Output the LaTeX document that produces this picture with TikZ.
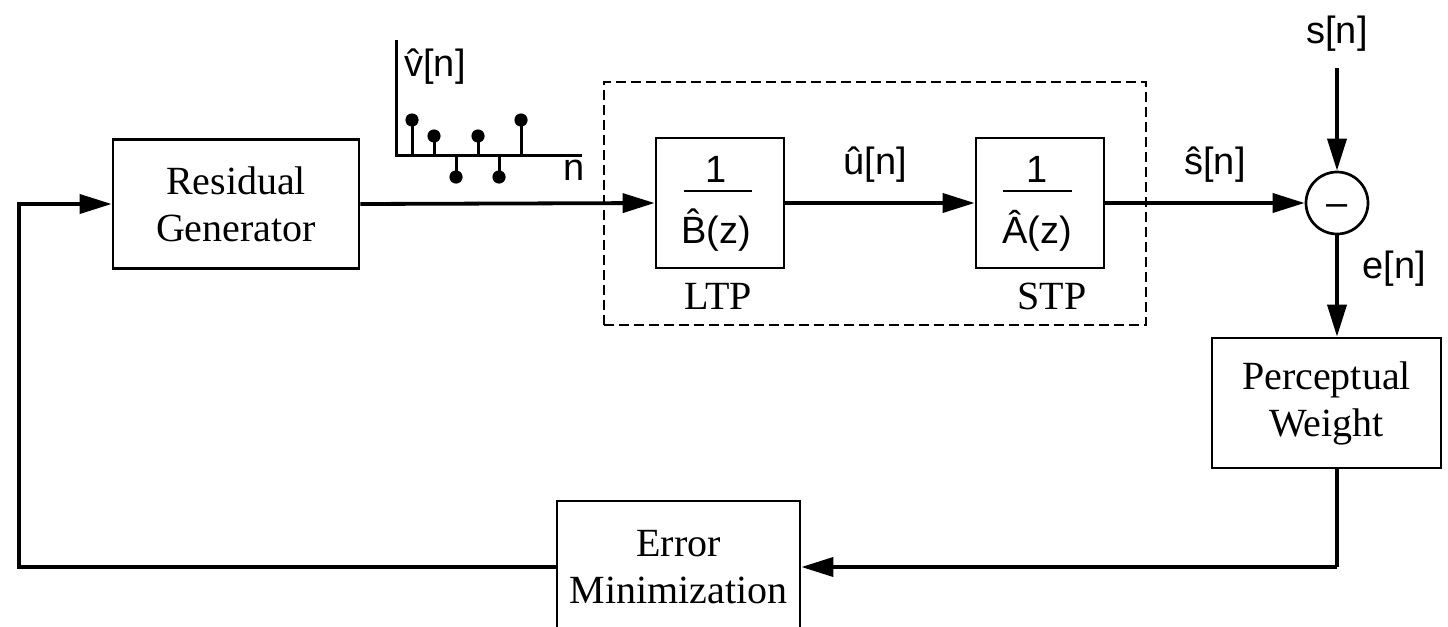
\documentclass[tikz,border=0pt]{standalone}
\usepackage{fontspec}
\setmainfont{Liberation Serif}
\newfontfamily\hv{Liberation Sans}
\usetikzlibrary{arrows.meta}
\begin{document}
\begin{tikzpicture}[x=0.5pt,y=-0.5pt,
  box/.style={draw,line width=1.35pt,inner sep=0pt,align=center,
    font=\fontsize{20}{23.5}\selectfont},
  flow/.style={line width=1.9pt,-{Triangle[length=16pt,width=9.5pt]}},
  wire/.style={line width=1.9pt},
  sig/.style={font=\hv\fontsize{19}{22}\selectfont,inner sep=0pt},
  lbl/.style={font=\fontsize{20}{23.5}\selectfont,inner sep=0pt},
  fracrule/.style={line width=1pt},
  grpbox/.style={draw,line width=1.2pt,dash pattern=on 5pt off 2.5pt,inner sep=0pt},
  stem/.style={line width=1.5pt},
  dot/.style={fill=black,draw=none}]
\useasboundingbox (0,0) rectangle (1448,627);
\clip (0,0) rectangle (1448,627);

% blocks
\node[box,minimum width=123pt,minimum height=64.5pt] (res) at (236,204) {Residual\\Generator};
\node[grpbox,minimum width=271pt,minimum height=121.5pt] (grp) at (875,203.5) {};
\node[box,minimum width=64pt,minimum height=65pt] (ltp) at (720,203) {};
\node[box,minimum width=64pt,minimum height=65pt] (stp) at (1040,203) {};
\node[draw,circle,line width=1.35pt,minimum size=31pt,inner sep=0pt] (sum) at (1337,203) {};
\node[sig,anchor=base] (minus) at (1337,215) {–};
\node[box,minimum width=114.5pt,minimum height=65pt] (perc) at (1326.5,403) {Perceptual\\Weight};
\node[box,minimum width=121.5pt,minimum height=66pt] (err) at (678.5,567) {Error\\Minimization};

% fractions
\node[sig,anchor=base] (ln) at (716,182) {1};
\node[sig,anchor=base] (ld) at (716,243) {B̂(z)};
\draw[fracrule] (684,191) -- (752,191);
\node[sig,anchor=base] (sn1) at (1037,182) {1};
\node[sig,anchor=base] (sd) at (1037,243) {Â(z)};
\draw[fracrule] (1003,191) -- (1072,191);

% labels
\node[lbl] (ltplab) at (718,296) {LTP};
\node[lbl] (stplab) at (1052,296) {STP};
\node[sig] (ulab) at (875,165) {û[n]};
\node[sig] (shat) at (1215,165) {ŝ[n]};
\node[sig] (elab) at (1394,269) {e[n]};
\node[sig] (sin) at (1337,34) {s[n]};
\node[sig] (vlab) at (435,67) {v̂[n]};
\node[sig] (nlab) at (574,170) {n};

% stem plot
\coordinate (o) at (396,155);
\draw[line width=1.5pt] (396,40) -- (o) -- (582,155);
\foreach \x/\y in {412/120,434/136,456/177,478/136,499/177,521/120}{
  \draw[stem] (\x,155) -- (\x,\y);
  \fill[dot] (\x,\y) circle (3.3pt);
}

% connectors
\draw[flow] (res.east) -- (ltp.west);
\draw[flow] (ltp.east) -- (stp.west);
\draw[flow] (stp.east) -- (sum.west);
\draw[flow,shorten <=8pt] (sin.south) -- (sum.north);
\draw[flow] (sum.south) -- (perc.north -| sum);
\coordinate (fbl) at (19,400);
\draw[wire] (perc.south -| sum) -- (1337,567);
\draw[flow] (1337,567) -- (err.east);
\draw[flow] (err.west) -- (err.west -| fbl) -- (res.west -| fbl) -- (res.west);
\end{tikzpicture}
\end{document}
